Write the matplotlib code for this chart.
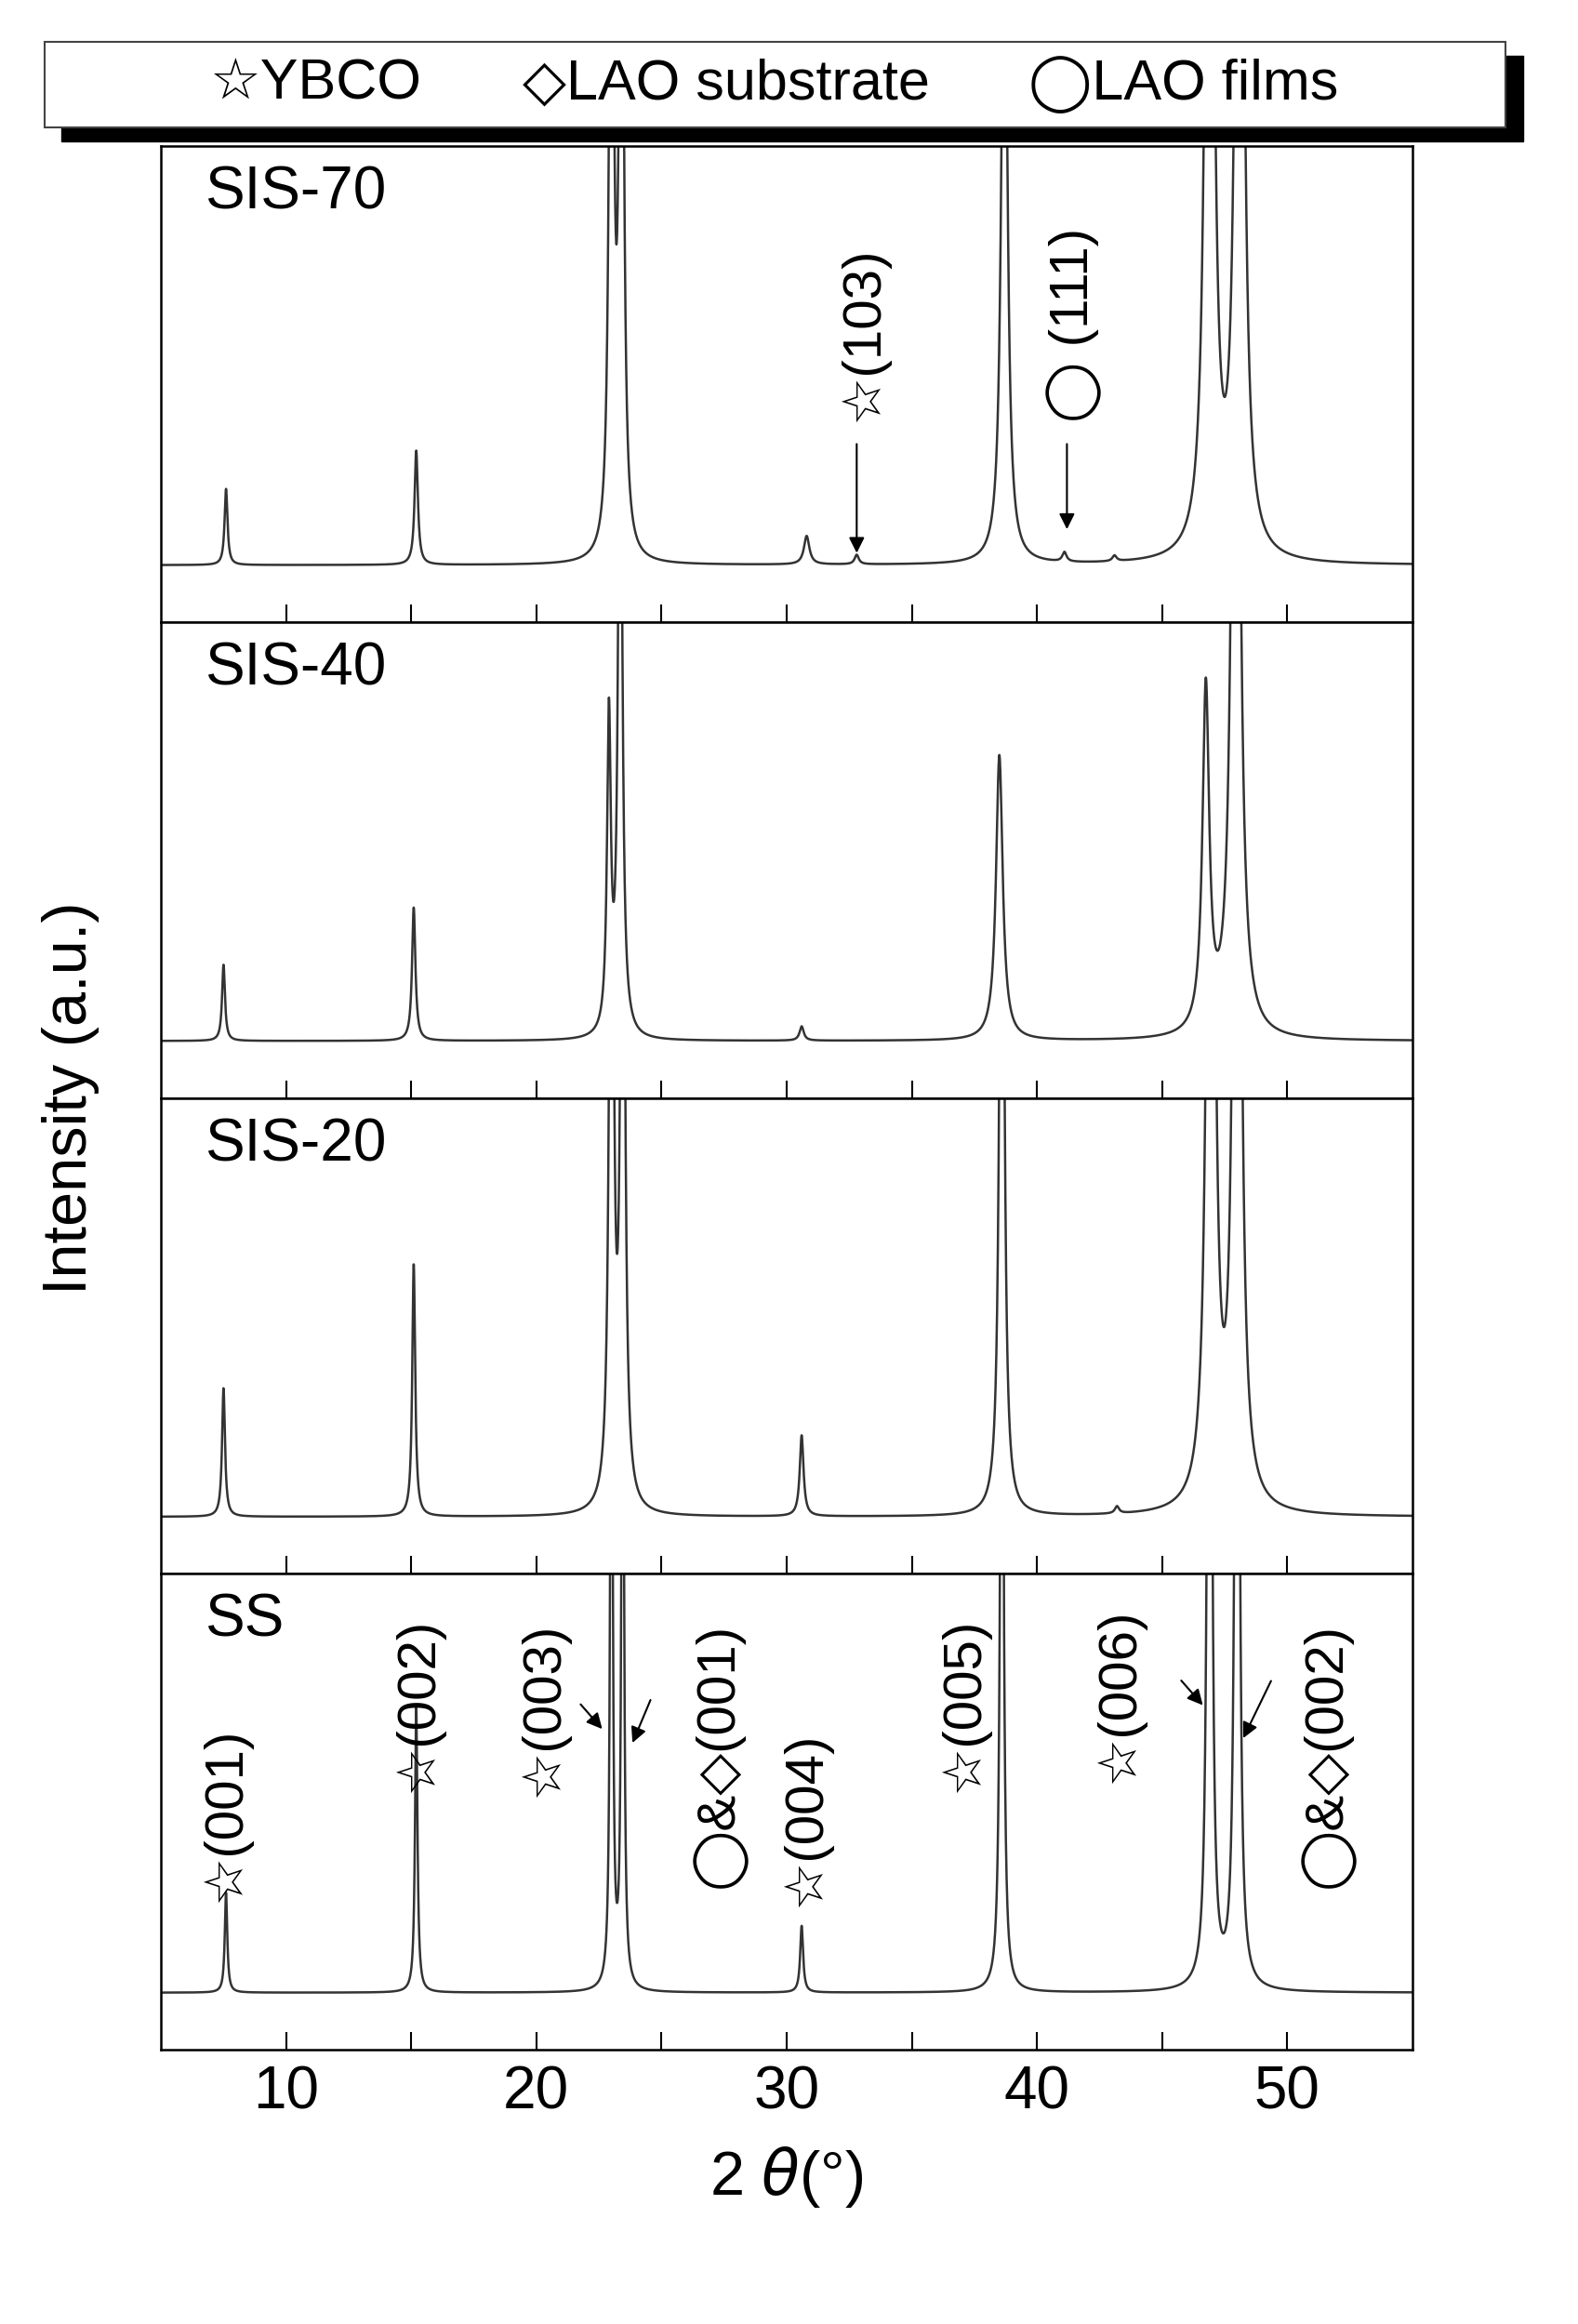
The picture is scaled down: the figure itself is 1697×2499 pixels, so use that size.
import numpy as np
import matplotlib.pyplot as plt
from matplotlib.patches import Rectangle

plt.rcParams['font.family'] = ['Liberation Sans', 'DejaVu Sans']

# peaks: position (deg), height (panel fraction above baseline), half width (deg)
panels = ['SIS-70', 'SIS-40', 'SIS-20', 'SS']
peak_pos = {
    'SIS-70': [7.6, 15.2, 23.0, 23.4, 30.8, 32.8, 38.7, 41.1, 43.1, 46.9, 48.1],
    'SIS-40': [7.5, 15.1, 22.9, 23.35, 30.6, 38.5, 46.75, 47.95],
    'SIS-20': [7.5, 15.1, 23.0, 23.45, 30.6, 38.6, 43.2, 46.95, 48.0],
    'SS': [7.6, 15.2, 23.0, 23.45, 30.6, 38.6, 46.9, 48.0],
}
peak_h = {
    'SIS-70': [0.16, 0.24, 2.0, 2.0, 0.06, 0.02, 1.6, 0.02, 0.012, 3.0, 3.0],
    'SIS-40': [0.16, 0.28, 0.66, 1.6, 0.03, 0.6, 0.72, 2.5],
    'SIS-20': [0.27, 0.53, 2.0, 2.0, 0.17, 2.0, 0.015, 3.0, 3.0],
    'SS': [0.21, 0.6, 2.0, 2.0, 0.14, 2.0, 3.0, 3.0],
}
peak_w = {
    'SIS-70': [0.07, 0.08, 0.09, 0.09, 0.13, 0.1, 0.13, 0.1, 0.1, 0.15, 0.15],
    'SIS-40': [0.07, 0.08, 0.09, 0.09, 0.1, 0.16, 0.16, 0.16],
    'SIS-20': [0.07, 0.07, 0.09, 0.09, 0.09, 0.1, 0.1, 0.14, 0.14],
    'SS': [0.06, 0.06, 0.05, 0.05, 0.07, 0.07, 0.08, 0.08],
}
baseline = 0.12

fig = plt.figure(figsize=(16.97, 24.99), dpi=100)
left, right, top, bottom = 0.102, 0.895, 0.937, 0.118
h = (top - bottom) / 4
x = np.linspace(5, 55, 5001)
axes = []
for i, name in enumerate(panels):
    ax = fig.add_axes([left, top - (i + 1) * h, right - left, h])
    y = np.full_like(x, baseline)
    for p, a, w in zip(peak_pos[name], peak_h[name], peak_w[name]):
        y += a * w**2 / ((x - p)**2 + w**2)
    ax.plot(x, y, color='#333333', lw=1.8)
    ax.set_xlim(5, 55)
    ax.set_ylim(0, 1)
    ax.set_yticks([])
    ax.set_xticks(np.arange(10, 55, 5))
    ax.tick_params(axis='x', direction='in', length=14, width=1.5, top=False,
                   labelsize=46, pad=12)
    if i < 3:
        ax.tick_params(labelbottom=False)
    else:
        ax.set_xticks([10, 20, 30, 40, 50])
        ax.set_xticks(np.arange(15, 55, 10), minor=True)
        ax.tick_params(axis='x', which='minor', direction='in', length=14, width=1.5)
    for s in ax.spines.values():
        s.set_linewidth(1.8)
    ax.text(0.035, 0.96, name, transform=ax.transAxes, fontsize=46, va='top')
    axes.append(ax)

axes[-1].set_xlabel('2 $\\theta$(°)', fontsize=48, labelpad=18)
fig.text(0.045, (top + bottom) / 2, 'Intensity (a.u.)', rotation=90, fontsize=48,
         va='center', ha='center')

tf = dict(rotation=90, fontsize=42, ha='center', va='bottom',
          family=['Liberation Sans', 'DejaVu Sans'])
ss = axes[3]
for xx, yy, t in [(7.6, 0.31, '☆(001)'), (15.3, 0.54, '☆(002)'), (20.3, 0.53, '☆(003)'),
                  (27.3, 0.34, '◯&◇(001)'), (30.8, 0.30, '☆(004)'), (37.1, 0.54, '☆(005)'),
                  (43.3, 0.56, '☆(006)'), (51.6, 0.34, '◯&◇(002)')]:
    ss.text(xx, yy, t, **tf)
ap = dict(arrowstyle='-|>', color='black', lw=1.5, mutation_scale=25)
for xy, xyt in [((22.7, 0.67), (21.7, 0.73)), ((23.8, 0.64), (24.6, 0.74)),
                ((46.7, 0.72), (45.7, 0.78)), ((48.2, 0.65), (49.4, 0.78))]:
    ss.annotate('', xy=xy, xytext=xyt, arrowprops=ap)

t70 = axes[0]
t70.text(33.1, 0.42, '☆(103)', **tf)
t70.text(41.5, 0.42, '◯ (111)', **tf)
t70.annotate('', xy=(32.8, 0.14), xytext=(32.8, 0.38), arrowprops=ap)
t70.annotate('', xy=(41.2, 0.19), xytext=(41.2, 0.38), arrowprops=ap)

# legend box with shadow
lx, ly, lw_, lh = 0.028, 0.945, 0.926, 0.037
fig.patches.append(Rectangle((lx + 0.011, ly - 0.006), lw_, lh, transform=fig.transFigure,
                             facecolor='black', edgecolor='black'))
fig.patches.append(Rectangle((lx, ly), lw_, lh, transform=fig.transFigure,
                             facecolor='white', edgecolor='#444444', lw=1.5))
for xx, t in [(0.2, '☆YBCO'), (0.46, '◇LAO substrate'), (0.75, '◯LAO films')]:
    fig.text(xx, ly + lh / 2, t, fontsize=44, ha='center', va='center')

fig.savefig('out.png', dpi=100)
